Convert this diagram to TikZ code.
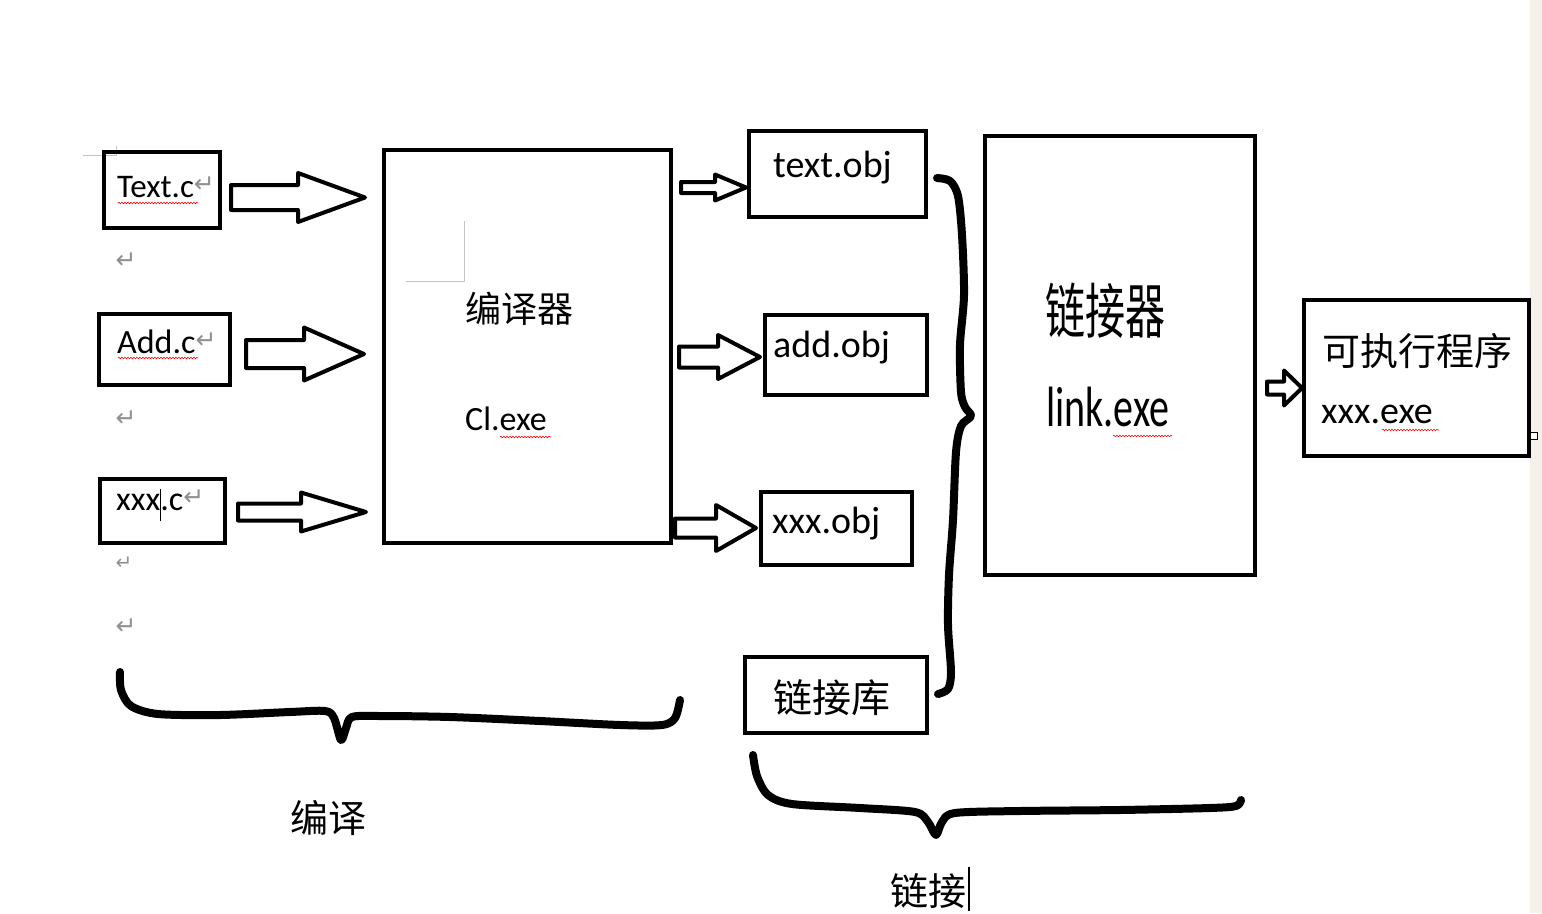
\documentclass[tikz,border=0pt]{standalone}
\usepackage{fontspec}
\usepackage{graphicx}
\setmainfont{Carlito}
\newfontfamily\cjk{Noto Sans CJK SC}
\newfontfamily\symf{DejaVu Sans}
\usetikzlibrary{fit,decorations.pathmorphing}
\definecolor{retgray}{HTML}{909090}
\definecolor{markgray}{HTML}{C4C4C4}
\definecolor{pageedge}{HTML}{F5F0EA}
\newcommand{\fs}[1]{\fontsize{#1}{#1}\selectfont}
\newcommand{\retsym}{{\color{retgray}\symf\fontsize{25}{25}\selectfont ↵}}
\newcommand{\ret}{\raisebox{5pt}{\retsym}}
\newcommand{\blockarr}[6]{\draw[barrow] (#1,#4-#5) -- (#2,#4-#5) -- (#2,#4-#6) -- (#3,#4) -- (#2,#4+#6) -- (#2,#4+#5) -- (#1,#4+#5) -- cycle;}
\begin{document}
\begin{tikzpicture}[x=1pt,y=-1pt,
  box/.style={draw, line width=4pt, inner sep=0pt},
  lbl/.style={anchor=base west, inner sep=0pt},
  barrow/.style={draw, line width=4pt, line join=round, fill=white},
  bracepath/.style={line width=8pt, line cap=round, line join=round},
  squig/.style={red, line width=0.6pt, decorate, decoration={snake, segment length=3pt, amplitude=0.8pt}},
  retmark/.style={inner sep=0pt},
  marks/.style={markgray, line width=1pt}]

\useasboundingbox (0,0) rectangle (1542,913);
\fill[pageedge] (1530,0) rectangle (1542,913);

% gray layout marks
\draw[marks] (83,155) -- (116,155) -- (116,146);
\draw[marks] (464,221) -- (464,281) -- (406,281);

% boxes
\node[box, fit={(104,152) (220,228)}] (textc) {};
\node[box, fit={(99,314) (230,385)}] (addc) {};
\node[box, fit={(100,479) (225,543)}] (xxxc) {};
\node[box, fit={(384,150) (671,543)}] (compiler) {};
\node[box, fit={(749,131) (926,217)}] (textobj) {};
\node[box, fit={(765,315) (927,395)}] (addobj) {};
\node[box, fit={(761,492) (912,565)}] (xxxobj) {};
\node[box, fit={(745,657) (927,733)}] (lib) {};
\node[box, fit={(985,136) (1255,575)}] (linker) {};
\node[box, fit={(1304,300) (1529,456)}] (exe) {};

% block arrows
\blockarr{231}{298}{365}{197.5}{12.5}{24.5}
\blockarr{246}{304}{364}{354}{14}{26.5}
\blockarr{238}{301}{366}{512}{8.5}{19.5}
\blockarr{681}{715}{746}{187.5}{5.5}{13}
\blockarr{679}{718}{760}{357}{10.5}{22}
\blockarr{675}{716}{756}{528}{9.5}{23}
\blockarr{1267}{1284}{1302}{388}{6.5}{17.5}

% texts
\node[lbl] (tTextc) at (117,197) {\fs{33}Text.c\ret};
\node[lbl] (tAddc) at (117,353) {\fs{34}Add.c\ret};
\node[lbl] (txxxc) at (116,510) {\fs{34}xxx.c\ret};
\node[retmark] (r1) at (126,261) {\retsym};
\node[retmark] (r2) at (126,419) {\retsym};
\node[retmark, scale=0.8] (r3) at (124,563) {\retsym};
\node[retmark] (r4) at (126,627) {\retsym};

\node[lbl] (tcomp) at (465,322) {\cjk\fs{36}编译器};
\node[lbl] (tcl) at (465,430) {\fs{34}Cl.exe};

\node[lbl] (ttextobj) at (773,177) {\fs{38}text.obj};
\node[lbl] (taddobj) at (773,357) {\fs{38}add.obj};
\node[lbl] (txxxobj) at (772,533) {\fs{38}xxx.obj};
\node[lbl] (tlib) at (773,712) {\cjk\fs{39}链接库};

\node[lbl] (tlinker) at (1045,333) {\cjk\fs{40}\scalebox{1}[1.5]{链接器}};
\node[lbl] (tlinkexe) at (1046,426) {\fs{40}\scalebox{1}[1.42]{link.exe}};

\node[lbl] (texe) at (1322,365) {\cjk\fs{38}可执行程序};
\node[lbl] (txxxexe) at (1321,423) {\fs{38}xxx.exe};

\node[lbl] (tbianyi) at (290,832) {\cjk\fs{38}编译};
\node[lbl] (tlianjie) at (890,905) {\cjk\fs{38}链接};

% cursors
\draw[line width=1.2pt] (160.5,489) -- (160.5,521);
\draw[line width=2pt] (969,867) -- (969,911);

% resize handle
\draw[line width=1pt, fill=white] (1530,432) rectangle (1537,439);

% red spelling squiggles
\draw[squig] (118,203) -- (198,203);
\draw[squig] (118,358) -- (198,358);
\draw[squig] (500,437) -- (551,437);
\draw[squig] (1113,436) -- (1172,436);
\draw[squig] (1382,430) -- (1439,430);

% braces
\draw[bracepath] plot[smooth, tension=0.5] coordinates {(120,672) (121,690) (131,706) (158,714) (220,715) (290,712) (325,711) (334,718) (341,740) (346,728) (352,717) (380,716) (450,717) (540,721) (620,725) (662,725) (675,718) (680,700)};
\draw[bracepath] plot[smooth, tension=0.5] coordinates {(753,755) (757,776) (768,795) (792,804) (860,808) (915,812) (928,822) (936,835) (942,822) (955,813) (1020,811) (1120,810) (1210,808) (1236,806) (1241,800)};
\draw[bracepath] plot[smooth, tension=0.5] coordinates {(937,178) (950,181) (958,196) (962,235) (964,295) (960,345) (961,392) (965,407) (971,416) (961,426) (956,452) (953,520) (949,575) (948,625) (951,672) (948,689) (938,694)};
\end{tikzpicture}
\end{document}
